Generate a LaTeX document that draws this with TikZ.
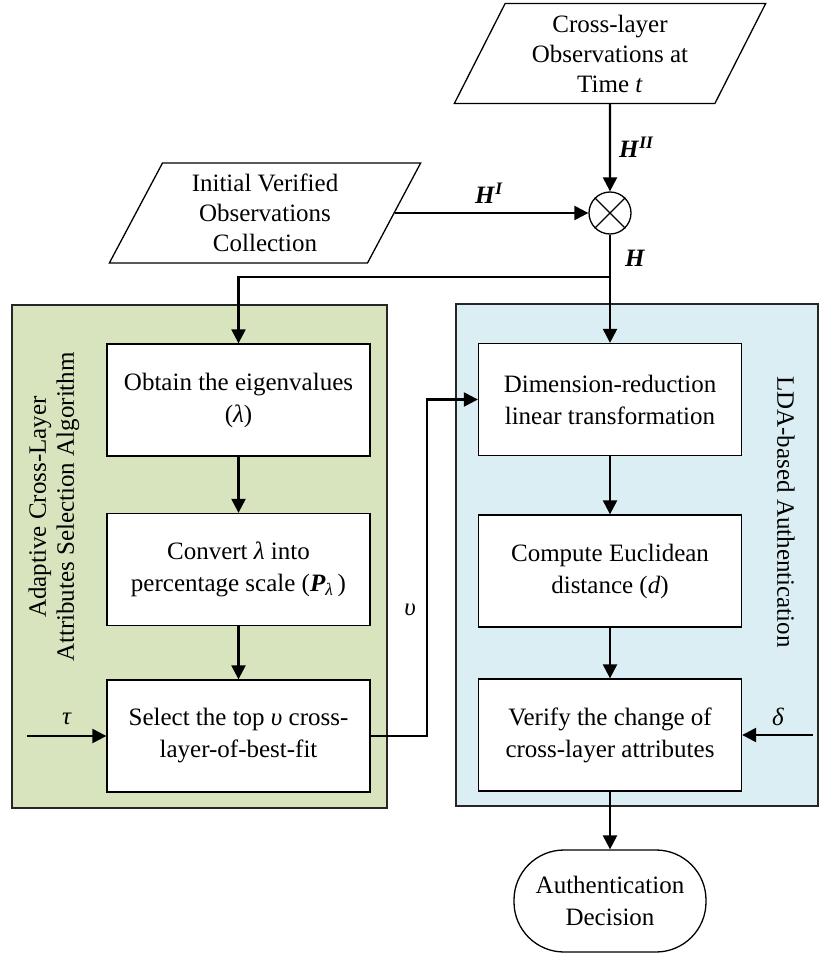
\documentclass[tikz,border=0pt]{standalone}
\usepackage{fontspec}
\setmainfont{Liberation Serif}
\usetikzlibrary{arrows.meta,shapes.geometric}
\definecolor{panelgreen}{HTML}{D7E4BD}
\definecolor{panelblue}{HTML}{DBEEF4}
\begin{document}
\begin{tikzpicture}[x=1pt,y=-1pt,
  font=\fontsize{25}{32}\selectfont,
  stepbox/.style={draw, line width=1.3pt, fill=white, minimum width=263pt,
    minimum height=112pt, align=center, inner sep=2pt},
  iobox/.style={trapezium, trapezium left angle=64, trapezium right angle=116,
    trapezium stretches=true, draw, line width=1.3pt, fill=white,
    minimum width=312pt, minimum height=100pt, align=center, inner sep=0pt,
    font=\fontsize{25}{30}\selectfont},
  panel/.style={draw=black!85, line width=1.5pt},
  arr/.style={line width=2.3pt, -{Triangle[length=14pt,width=14pt]}},
  plain/.style={line width=2.3pt},
  sym/.style={inner sep=1pt}]
\useasboundingbox (0,0) rectangle (819,955);

% panels
\fill[panelgreen] (12,305) rectangle (387,808);
\draw[panel] (12,305) rectangle (387,808);
\fill[panelblue] (456,304) rectangle (818,806);
\draw[panel] (456,304) rectangle (818,806);

\node[rotate=90, align=center, font=\fontsize{25}{28}\selectfont] (lefttitle) at (54,507)
  {Adaptive Cross-Layer\\Attributes Selection Algorithm};
\node[rotate=-90] (righttitle) at (786,512) {LDA-based Authentication};

% inputs
\node[iobox] (obs) at (610,53.5) {Cross-layer\\Observations at\\Time \textit{t}};
\node[iobox] (init) at (265,213) {Initial Verified\\Observations\\Collection};

% combiner
\node[draw, circle, minimum size=42pt, line width=1.3pt, inner sep=0pt] (mix) at (610,213) {};
\draw[line width=1.3pt] (mix.north west) -- (mix.south east);
\draw[line width=1.3pt] (mix.north east) -- (mix.south west);
\coordinate (split) at (610,277);

% selection algorithm
\node[stepbox] (lb1) at (238.5,400) {Obtain the eigenvalues\\(\textit{λ})};
\node[stepbox] (lb2) at (238.5,569.5) {Convert \textit{λ} into\\percentage scale (\textbf{\textit{P}}\textsubscript{\textit{λ}}\,)};
\node[stepbox] (lb3) at (238.5,736) {Select the top \textit{υ} cross-\\layer-of-best-fit};

% authentication
\node[stepbox] (rb1) at (610,399.5) {Dimension-reduction\\linear transformation};
\node[stepbox] (rb2) at (610,571) {Compute Euclidean\\distance (\textit{d})};
\node[stepbox] (rb3) at (610,735) {Verify the change of\\cross-layer attributes};

\node[draw, rounded corners=50pt, minimum width=192pt, minimum height=102pt,
  line width=1.3pt, fill=white, align=center] (dec) at (610,901) {Authentication\\Decision};

% connectors
\draw[arr] (obs.south) -- (mix.north);
\draw[arr] (init.east |- mix.west) -- (mix.west);
\draw[plain] (mix.south) -- (split);
\draw[arr] (split) -- (rb1.north);
\draw[arr] (split) -| (lb1.north);
\draw[arr] (lb1) -- (lb2);
\draw[arr] (lb2) -- (lb3);
\draw[arr] (rb1) -- (rb2);
\draw[arr] (rb2) -- (rb3);
\draw[arr] (rb3) -- (dec);

\coordinate (bend) at (427,736);
\draw[arr] (lb3.east) -- (bend) |- (rb1.west);

\coordinate (tauin) at (27,736);
\draw[arr] (tauin) -- (lb3.west);
\coordinate (deltain) at (813,735);
\draw[arr] (deltain) -- (rb3.east);

% labels
\node[sym, anchor=west] (lHII) at (618,147) {\textbf{\textit{H}}\textsuperscript{\textbf{\textit{II}}}};
\node[sym, anchor=west] (lHI) at (474,193) {\textbf{\textit{H}}\textsuperscript{\textbf{\textit{I}}}};
\node[sym, anchor=west] (lH) at (624,258) {\textbf{\textit{H}}};
\node[sym] (ltau) at (67,719) {\textit{τ}};
\node[sym] (lups) at (410,610) {\textit{υ}};
\node[sym] (ldelta) at (778,717) {\textit{δ}};
\end{tikzpicture}
\end{document}
